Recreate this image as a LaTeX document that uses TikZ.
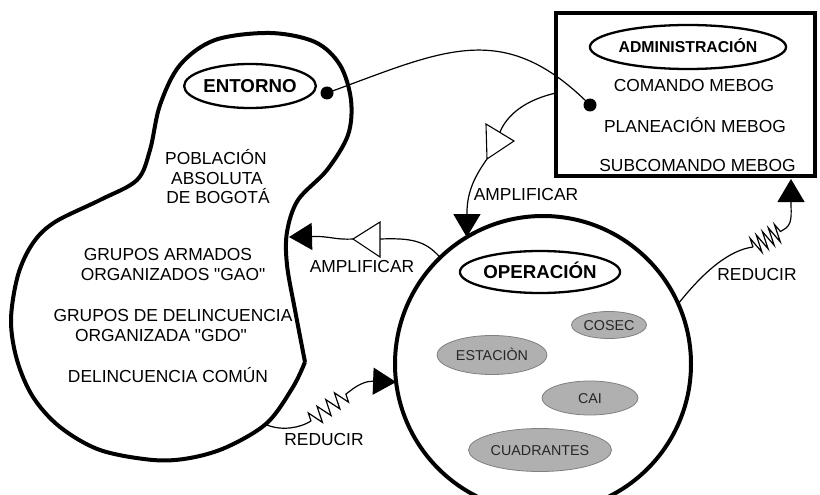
\documentclass[tikz,border=0pt]{standalone}
\usepackage{fontspec}
\setmainfont{Liberation Sans}[Ligatures=TeXOff]
\usetikzlibrary{shapes.geometric,arrows.meta,decorations.pathmorphing}
\begin{document}
\begin{tikzpicture}[x=1pt,y=-1pt,
 txt/.style={font=\fontsize{17.4}{20}\selectfont, inner sep=0pt, anchor=base},
 ttl/.style={ellipse, draw, line width=2.3pt, inner sep=0pt, text height=13.4pt, text depth=0pt, font=\fontsize{18.7}{20}\bfseries\selectfont},
 gunit/.style={ellipse, draw=black!50, fill=black!31, line width=0.8pt, inner sep=0pt, text height=10.2pt, text depth=0pt, text=black!85, font=\fontsize{14.3}{15}\selectfont},
 conn/.style={line width=1.2pt},
 bigtip/.style={-{Triangle[length=23pt,width=27pt]}},
 amp/.style={draw, line width=1.1pt, fill=white, line join=miter},
 hull/.style={line width=4pt, line join=round}
]
\useasboundingbox (0,0) rectangle (820,495);

% ENTORNO blob
\draw[hull] plot[smooth, tension=0.55] coordinates {(305,362) (293,387) (267,423) (227,447) (190,458) (153,460) (100,450) (60,427) (33,397) (17,360) (11,320) (18,275) (33,243) (55,222) (100,200) (137,180) (150,150) (160,105) (180,65) (215,40) (270,33) (315,42) (340,65) (351,100) (348,135) (327,170) (298,200) (287,232) (287,265) (295,310) (305,362)};

% OPERACION circle
\node[circle, draw, line width=4pt, minimum size=296pt, inner sep=0pt, outer sep=0pt] (opc) at (543,364) {};

% ADMINISTRACION box
\node[draw, line width=4.5pt, minimum width=259pt, minimum height=163pt, inner sep=0pt, outer sep=0pt] (adm) at (685.5,94.5) {};

% title ellipses
\node[ttl, minimum width=126pt, minimum height=44pt] (ent) at (250,86) {ENTORNO};
\node[ttl, minimum width=142pt, minimum height=42pt] (op) at (540,272) {OPERACIÓN};
\node[ttl, font=\fontsize{15.8}{18}\bfseries\selectfont, text height=11.3pt, minimum width=177pt, minimum height=44pt] (admt) at (688,47) {ADMINISTRACIÓN};

% texts in blob
\node[txt] (t1) at (216,164) {POBLACIÓN};
\node[txt] (t2) at (217,184) {ABSOLUTA};
\node[txt] (t3) at (218,203) {DE BOGOTÁ};
\node[txt] (t4) at (168,260) {GRUPOS ARMADOS};
\node[txt] (t5) at (173,280) {ORGANIZADOS "GAO"};
\node[txt] (t6) at (173,321) {GRUPOS DE DELINCUENCIA};
\node[txt] (t7) at (161,341) {ORGANIZADA "GDO"};
\node[txt] (t8) at (168,382) {DELINCUENCIA COMÚN};

% texts in admin box
\node[txt] (c1) at (694,91.7) {COMANDO MEBOG};
\node[txt] (c2) at (695,132.3) {PLANEACIÓN MEBOG};
\node[txt] (c3) at (697.5,171.7) {SUBCOMANDO MEBOG};

% units
\node[gunit, minimum width=75pt, minimum height=27pt] (cosec) at (609,325) {COSEC};
\node[gunit, minimum width=110pt, minimum height=39pt] (est) at (492,355) {ESTACIÒN};
\node[gunit, minimum width=96pt, minimum height=34pt] (cai) at (590,398) {CAI};
\node[gunit, minimum width=143pt, minimum height=43pt] (cuad) at (540,450) {CUADRANTES};

% dot connection
\coordinate (d1) at (327,93);
\coordinate (d2) at (590,105);
\draw[conn] (d1) to[out=20,in=135,looseness=1.2] (d2);
\fill (d1) circle[radius=6.5pt];
\fill (d2) circle[radius=6.5pt];

% amplify 1 (admin -> operacion)
\coordinate (a1s) at (556,93);
\coordinate (a1e) at (500,132);
\coordinate (t1a) at (486,124);
\coordinate (t1b) at (514,141);
\coordinate (t1c) at (487,159);
\draw[conn] (a1s) .. controls (525,100) and (507,115) .. (a1e);
\draw[conn,bigtip] (t1c) .. controls (472,180) and (467,195) .. (opc.121);
\draw[amp] (t1a) -- (t1b) -- (t1c) -- cycle;
\node[txt] (l1) at (526,200) {AMPLIFICAR};

% amplify 2 (operacion -> entorno)
\coordinate (t2a) at (380,222);
\coordinate (t2b) at (353,239);
\coordinate (t2c) at (380,257);
\coordinate (t2m) at (380,239);
\coordinate (e2) at (289,237);
\draw[conn] (opc.134) .. controls (425,240) and (410,238) .. (t2m);
\draw[conn,bigtip] (t2b) .. controls (335,240) and (330,236) .. (e2);
\draw[amp] (t2a) -- (t2b) -- (t2c) -- cycle;
\node[txt] (l2) at (362,272) {AMPLIFICAR};

% reduce 1 (entorno -> operacion)
\coordinate (r1s) at (267,425);
\coordinate (r1a) at (311,421);
\coordinate (r1b) at (350,391);
\draw[conn] (r1s) .. controls (282,431) and (300,428) .. (r1a);
\draw[conn,decorate,decoration={zigzag,segment length=11pt,amplitude=8pt}] (r1a) -- (r1b);
\draw[conn,bigtip] (r1b) .. controls (360,383) and (368,381) .. (opc.187);
\node[txt] (l3) at (324,445) {REDUCIR};

% reduce 2 (operacion -> admin)
\coordinate (r2a) at (753,247);
\coordinate (r2b) at (783,230);
\coordinate (r2e) at (791,179);
\draw[conn] (opc.24) .. controls (705,270) and (730,250) .. (r2a);
\draw[conn,decorate,decoration={zigzag,segment length=7pt,amplitude=9pt}] (r2a) -- (r2b);
\draw[conn,bigtip] (r2b) .. controls (793,225) and (791,215) .. (r2e);
\node[txt] (l4) at (757,280) {REDUCIR};
\end{tikzpicture}
\end{document}
